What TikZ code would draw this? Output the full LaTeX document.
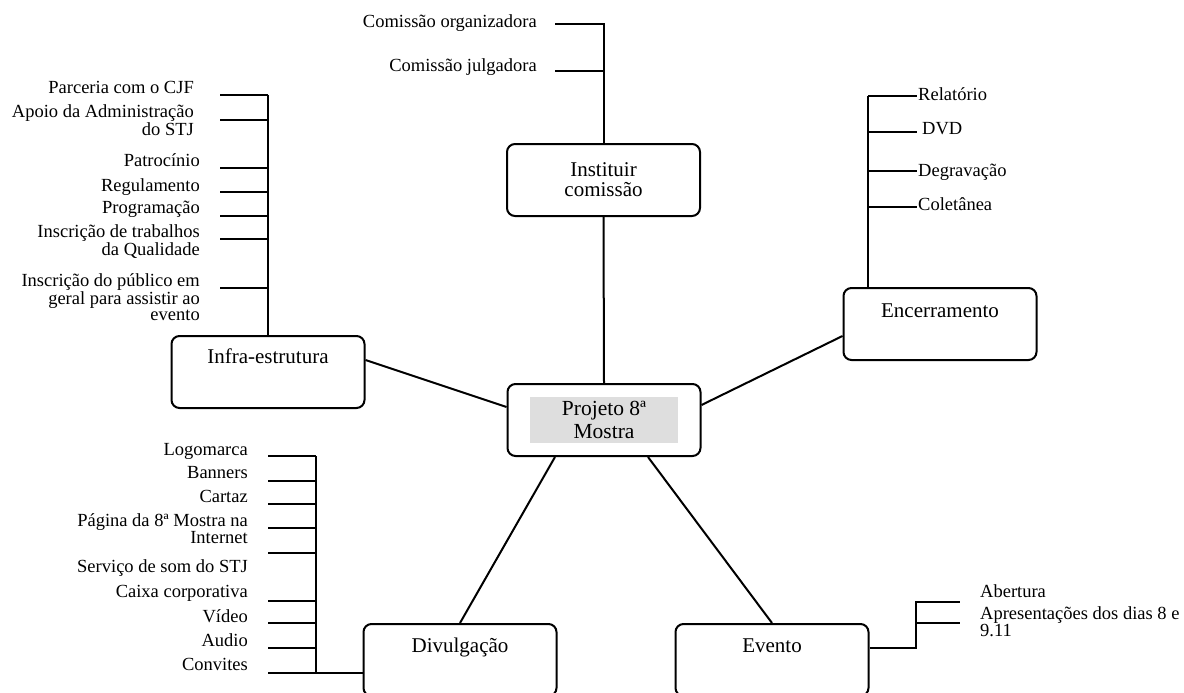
\documentclass[tikz,border=0pt]{standalone}
\usepackage{fontspec}
\setmainfont{Liberation Serif}
\begin{document}
\begin{tikzpicture}[x=1pt,y=-1pt,
  wire/.style={line width=2pt},
  box/.style={draw, line width=2pt, rounded corners=8pt, minimum width=193pt,
    inner xsep=0pt, inner ysep=0pt, font=\fontsize{21}{20}\selectfont, align=center},
  leaf/.style={inner sep=0pt, font=\fontsize{18.5}{16.5}\selectfont},
  leafR/.style={leaf, anchor=base east, align=right},
  leafL/.style={leaf, anchor=base west, align=left},
]
\useasboundingbox (0,0) rectangle (1184,693);
\clip (0,0) rectangle (1184,693);

% main boxes
\node[box, minimum height=72pt] (inst) at (603.5,180) {Instituir\\comissão};
\node[box, minimum height=72pt] (proj) at (604,420) {};
\node[fill=black!13, minimum width=148pt, minimum height=46pt, inner sep=0pt,
  align=center, font=\fontsize{21.5}{23}\selectfont] (projT) at (604,420) {Projeto 8ª\\Mostra};
\node[box, text height=27pt, text depth=45pt] (infra) at (268,372) {Infra-estrutura};
\node[box, text height=29pt, text depth=43pt] (enc) at (940,324) {Encerramento};
\node[box, text height=28pt, text depth=44pt] (div) at (460,660) {Divulgação};
\node[box, text height=28pt, text depth=44pt] (ev) at (772,660) {Evento};

% spokes from the central box
\draw[wire] (inst.south) -- (proj.north);
\draw[wire] ([yshift=12pt]infra.east) -- ([yshift=13pt]proj.west);
\draw[wire] ([yshift=15pt]proj.east) -- ([yshift=-12pt]enc.west);
\draw[wire] ([xshift=-49pt]proj.south) -- (div.north);
\draw[wire] ([xshift=44pt]proj.south) -- (ev.north);

% Instituir comissao: items (multi-line texts are placed by their last baseline)
\node[leafR] (c1) at (537,28) {Comissão organizadora};
\node[leafR] (c2) at (537,72) {Comissão julgadora};
\coordinate (ci1) at (603.5,24);  \coordinate (ct1) at (555,24);
\coordinate (ci2) at (603.5,71.5); \coordinate (ct2) at (555,71.5);
\draw[wire] (ct1) -- (ci1) -- (inst.north);
\draw[wire] (ct2) -- (ci2);

% Infra-estrutura: items
\node[leafR] (f1) at (194,93.5) {Parceria com o CJF};
\node[leafR] (f2) at (194,135.5) {Apoio da Administração\\do STJ};
\node[leafR] (f3) at (200,166.5) {Patrocínio};
\node[leafR] (f4) at (200,191.5) {Regulamento};
\node[leafR] (f5) at (200,213.5) {Programação};
\node[leafR] (f6) at (200,255) {Inscrição de trabalhos\\da Qualidade};
\node[leafR] (f7) at (200,320.5) {Inscrição do público em\\geral para assistir ao\\evento};
\foreach \y [count=\k] in {95,120,168,192,216,239,288,336} {
  \coordinate (fs\k) at (268,\y);
  \coordinate (ft\k) at (220,\y);
  \draw[wire] (ft\k) -- (fs\k);
}
\draw[wire] (fs1) -- (infra.north);

% Encerramento: items
\node[leafL] (e1) at (918,100) {Relatório};
\node[leafL] (e2) at (922,135) {DVD};
\node[leafL] (e3) at (918,176) {Degravação};
\node[leafL] (e4) at (918,210) {Coletânea};
\foreach \y [count=\k] in {96,132,171,207} {
  \coordinate (es\k) at (868,\y);
  \coordinate (et\k) at (917,\y);
  \draw[wire] (es\k) -- (et\k);
}
\draw[wire] (es1) -- (es1 |- enc.north);

% Divulgacao: items
\node[leafR] (d1) at (248,455.5) {Logomarca};
\node[leafR] (d2) at (248,478.5) {Banners};
\node[leafR] (d3) at (248,502.5) {Cartaz};
\node[leafR, font=\fontsize{18.5}{17}\selectfont] (d4) at (248,543.5) {Página da 8ª Mostra na\\Internet};
\node[leafR] (d5) at (248,572.5) {Serviço de som do STJ};
\node[leafR] (d6) at (248,597.5) {Caixa corporativa};
\node[leafR] (d7) at (248,622) {Vídeo};
\node[leafR] (d8) at (248,646.5) {Audio};
\node[leafR] (d9) at (248,670.5) {Convites};
\foreach \y [count=\k] in {456,481,504,528,553,601,623,648,673} {
  \coordinate (ds\k) at (316,\y);
  \coordinate (dt\k) at (268,\y);
  \draw[wire] (dt\k) -- (ds\k);
}
\draw[wire] (ds1) -- (ds9) -- (ds9 -| div.west);

% Evento: items
\node[leafL] (v1) at (980,597) {Abertura};
\node[leafL, font=\fontsize{18.5}{11.5}\selectfont] (v2) at (980,636.5) {Apresentações dos dias 8 e\\9.11};
\coordinate (vs0) at (916,648);
\coordinate (vs1) at (916,602); \coordinate (vt1) at (960,602);
\coordinate (vs2) at (916,623); \coordinate (vt2) at (960,623);
\draw[wire] ([yshift=12pt]ev.east) -- (vs0) -- (vs1) -- (vt1);
\draw[wire] (vs2) -- (vt2);
\end{tikzpicture}
\end{document}
